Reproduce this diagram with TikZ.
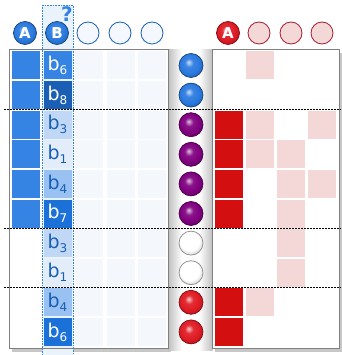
\documentclass[tikz,border=0pt]{standalone}
\usepackage{fontspec}
\setmainfont{DejaVu Sans}
\usetikzlibrary{positioning}

\definecolor{bMid}{HTML}{3584E4}
\definecolor{bDark}{HTML}{1A5FB4}
\definecolor{bDeep}{HTML}{1C71D8}
\definecolor{bSoft}{HTML}{99C1F1}
\definecolor{bPale}{HTML}{C0D8F5}
\definecolor{bFaint}{HTML}{E3EDFA}
\definecolor{bGhost}{HTML}{F4F8FD}
\definecolor{bCol}{HTML}{EAF2FC}
\definecolor{bText}{HTML}{1A5FB4}
\definecolor{rRed}{HTML}{D40F0F}
\definecolor{rPink}{HTML}{F4D7D7}
\definecolor{rEdge}{HTML}{A51D2D}
\definecolor{ballBlue}{HTML}{2A7AE0}
\definecolor{ballPurple}{HTML}{800080}
\definecolor{ballRed}{HTML}{E01B24}
\definecolor{ballWhite}{HTML}{FFFFFF}
\colorlet{glossbase}{ballBlue}

\pgfdeclareradialshading[glossbase]{glossy}{\pgfpoint{-5bp}{7bp}}{%
  color(0bp)=(glossbase!25!white); color(9bp)=(glossbase!92!white);
  color(20bp)=(glossbase); color(30bp)=(glossbase!80!black); color(50bp)=(glossbase!65!black)}

\newcommand{\blab}[1]{\fontsize{19}{19}\selectfont b\raisebox{-4pt}{\fontsize{12}{12}\selectfont #1}}

\begin{document}
\begin{tikzpicture}[
    x=1pt, y=-1pt,
    cell/.style={rectangle, minimum width=28pt, minimum height=28pt, inner sep=0pt},
    gloss/.style={shading=glossy, /utils/exec={\colorlet{glossbase}{#1}}, draw=#1!55!black, line width=0.7pt},
    ballnode/.style={circle, minimum size=24pt, inner sep=0pt, gloss=#1},
    headball/.style={circle, minimum size=23pt, inner sep=0pt, gloss=#1, text=white, font=\bfseries\fontsize{15}{15}\selectfont},
    headring/.style={circle, minimum size=22pt, inner sep=0pt, draw, line width=0.8pt},
    frame/.style={draw=black!50, line width=1pt},
    sep/.style={dash pattern=on 2pt off 1pt, line width=0.8pt}
  ]
    \useasboundingbox (0,0) rectangle (341,355);

    % shadows and gap shading
    \fill[black!22] (12,53) rectangle (171,352);
    \fill[black!22] (215,53) rectangle (342,352);
    \shade[left color=black!25, right color=white] (168,50) rectangle (182,350);
    \shade[left color=white, right color=black!25] (199,50) rectangle (212.5,350);
    \fill[white] (9.5,50) rectangle (168,348);
    \fill[white] (212.5,50) rectangle (339,348);

    % column under question
    \fill[bCol] (42,5) rectangle (73,355);

    \draw[frame] (9.5,50) rectangle (168,348);
    \draw[frame] (212.5,50) rectangle (339,348);

    % header row
    \node[headball=ballBlue] (hA) at (25,33) {A};
    \node[headball=ballBlue] (hB) at (57,33) {B};
    \foreach \i/\x in {3/88, 4/120, 5/152}
      \node[headring, draw=bDark, fill=bGhost] (h\i) at (\x,33) {};
    \node[text=bMid, font=\bfseries\fontsize{20}{20}\selectfont] (q) at (67,14) {?};

    \node[headball=ballRed] (kA) at (228,33) {A};
    \foreach \i/\x in {2/259, 3/291, 4/322}
      \node[headring, draw=rEdge, fill=rPink] (k\i) at (\x,33) {};

    % left panel
    \foreach \r in {1,...,10} {
      \foreach \c in {3,4,5}
        \node[cell, fill=bGhost] (L-\r-\c) at ({26+(\c-1)*31.5}, {65.5+(\r-1)*29.6}) {};
    }
    \foreach \r in {1,...,6}
      \node[cell, fill=bMid] (L-\r-1) at (26, {65.5+(\r-1)*29.6}) {};
    \foreach \r/\n/\f/\t in {1/6/bMid/white, 2/8/bDark/white, 3/3/bPale/bText, 4/1/bFaint/bText,
                              5/4/bSoft/bText, 6/7/bDeep/white, 7/3/bPale/bText, 8/1/bFaint/bText,
                              9/4/bSoft/bText, 10/6/bDeep/white}
      \node[cell, fill=\f, text=\t] (L-\r-2) at (57.5, {65.5+(\r-1)*29.6}) {\blab{\n}};
    \draw[bMid, densely dotted, line width=0.6pt] (42,5) rectangle (73,355);

    % middle balls
    \foreach \r/\col in {1/ballBlue, 2/ballBlue, 3/ballPurple, 4/ballPurple, 5/ballPurple,
                         6/ballPurple, 7/ballWhite, 8/ballWhite, 9/ballRed, 10/ballRed}
      \node[ballnode=\col] (m-\r) at (191, {65.5+(\r-1)*29.6}) {};

    % right panel
    \foreach \r in {3,4,5,6,9,10}
      \node[cell, fill=rRed] (R-\r-1) at (229, {65.5+(\r-1)*29.6}) {};
    \foreach \r/\c in {1/2, 3/2, 3/4, 4/2, 4/3, 5/3, 5/4, 6/3, 7/3, 8/3, 9/2}
      \node[cell, fill=rPink] (R-\r-\c) at ({229+(\c-1)*31}, {65.5+(\r-1)*29.6}) {};

    % group separators
    \foreach \y in {109.9, 228.3, 287.5}
      \draw[sep] (4,\y) -- (341,\y);
  \end{tikzpicture}
\end{document}
